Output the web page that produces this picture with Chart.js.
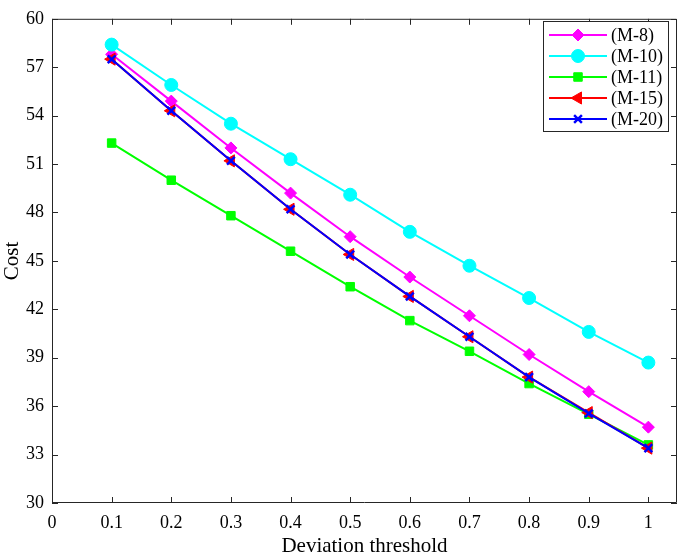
<!DOCTYPE html>
<html>
<head>
<meta charset="utf-8">
<script src="https://cdn.jsdelivr.net/npm/chart.js@4/dist/chart.umd.min.js"></script>
<style>
  html, body { margin: 0; padding: 0; background: #fff; }
  #wrap { width: 685px; height: 556px; }
</style>
</head>
<body>
<div id="wrap"><canvas id="c" width="685" height="556"></canvas></div>
<script>
// data
const thresholds = [0.1, 0.2, 0.3, 0.4, 0.5, 0.6, 0.7, 0.8, 0.9, 1.0];
const m8  = [57.8, 54.9, 52.0, 49.2, 46.5, 44.0, 41.6, 39.2, 36.9, 34.7];
const m10 = [58.4, 55.9, 53.5, 51.3, 49.1, 46.8, 44.7, 42.7, 40.6, 38.7];
const m11 = [52.3, 50.0, 47.8, 45.6, 43.4, 41.3, 39.4, 37.4, 35.5, 33.6];
const m15 = [57.5, 54.3, 51.2, 48.2, 45.4, 42.8, 40.3, 37.8, 35.6, 33.4];
const m20 = [57.5, 54.3, 51.2, 48.2, 45.4, 42.8, 40.3, 37.8, 35.55, 33.4];
const xTicks = [0, 0.1, 0.2, 0.3, 0.4, 0.5, 0.6, 0.7, 0.8, 0.9, 1];
const yTicks = [30, 33, 36, 39, 42, 45, 48, 51, 54, 57, 60];

const AXIS = '#262626';
const FONT = '"Liberation Serif", "Times New Roman", serif';

function pts(ys) { return thresholds.map((x, i) => ({ x: x, y: ys[i] })); }

function series(label, ys, color, style, radius, extra) {
  return Object.assign({
    label: label,
    data: pts(ys),
    borderColor: color,
    backgroundColor: color,
    pointBackgroundColor: color,
    pointBorderColor: color,
    borderWidth: 2,
    pointStyle: style,
    pointRadius: radius,
    pointBorderWidth: 1,
    tension: 0
  }, extra || {});
}

const datasets = [
  series('(M-8)', m8, '#ff00ff', 'rectRot', 6, { order: 4 }),
  series('(M-10)', m10, '#00ffff', 'circle', 6.5, { order: 3 }),
  series('(M-11)', m11, '#00ff00', 'rect', 6, { order: 2 }),
  series('(M-15)', m15, '#ff0000', 'triangle', 7, { order: 1, rotation: -90 }),
  series('(M-20)', m20, '#0000ff', 'crossRot', 5.5, { order: 0, pointBorderWidth: 2.5 })
];

// box on all sides with inward ticks, like the original figure
const boxPlugin = {
  id: 'box',
  afterDatasetsDraw(chart) {
    const { ctx, chartArea: a, scales } = chart;
    ctx.save();
    ctx.strokeStyle = AXIS;
    ctx.lineWidth = 1;
    ctx.beginPath();
    ctx.rect(a.left + 0.5, a.top + 0.5, a.right - a.left - 1, a.bottom - a.top - 1);
    const tl = 6;
    xTicks.forEach(v => {
      const px = Math.round(scales.x.getPixelForValue(v)) + 0.5;
      ctx.moveTo(px, a.bottom); ctx.lineTo(px, a.bottom - tl);
      ctx.moveTo(px, a.top); ctx.lineTo(px, a.top + tl);
    });
    yTicks.forEach(v => {
      const py = Math.round(scales.y.getPixelForValue(v)) + 0.5;
      ctx.moveTo(a.left, py); ctx.lineTo(a.left + tl, py);
      ctx.moveTo(a.right, py); ctx.lineTo(a.right - tl, py);
    });
    ctx.stroke();
    ctx.restore();
  }
};

// legend box in the upper right corner of the plot
const legendPlugin = {
  id: 'boxLegend',
  afterDraw(chart) {
    const { ctx } = chart;
    const x0 = 543, y0 = 21, w = 125, h = 110, rowH = 21;
    ctx.save();
    ctx.fillStyle = '#fff';
    ctx.fillRect(x0, y0, w, h);
    ctx.strokeStyle = AXIS;
    ctx.lineWidth = 1;
    ctx.strokeRect(x0 + 0.5, y0 + 0.5, w, h);
    ctx.font = '18px ' + FONT;
    ctx.textBaseline = 'middle';
    chart.data.datasets.forEach((ds, i) => {
      const y = y0 + 14 + i * rowH;
      ctx.strokeStyle = ds.borderColor;
      ctx.fillStyle = ds.borderColor;
      ctx.lineWidth = 2;
      ctx.beginPath();
      ctx.moveTo(x0 + 6, y); ctx.lineTo(x0 + 64, y);
      ctx.stroke();
      ctx.lineWidth = ds.pointBorderWidth;
      Chart.helpers.drawPoint(ctx, {
        pointStyle: ds.pointStyle,
        radius: ds.pointRadius,
        rotation: ds.rotation || 0,
        borderWidth: ds.pointBorderWidth
      }, x0 + 35, y);
      ctx.fillStyle = '#000';
      ctx.fillText(ds.label, x0 + 68, y + 1);
    });
    ctx.restore();
  }
};

new Chart(document.getElementById('c'), {
  type: 'line',
  data: { datasets: datasets },
  options: {
    responsive: false,
    animation: false,
    layout: { padding: { top: 6, right: 2, left: 0, bottom: 0 } },
    plugins: {
      legend: { display: false },
      tooltip: { enabled: false }
    },
    scales: {
      x: {
        type: 'linear',
        min: 0,
        max: 1.048,
        afterBuildTicks(s) { s.ticks = xTicks.map(v => ({ value: v })); },
        afterFit(s) { s.height = 53; },
        grid: { display: false, drawTicks: false },
        border: { display: false },
        title: {
          display: true,
          text: 'Deviation threshold',
          color: '#000',
          font: { family: FONT, size: 21 },
          padding: { top: 0, bottom: -3 }
        },
        ticks: {
          color: '#000',
          padding: 9,
          maxRotation: 0,
          autoSkip: false,
          font: { family: FONT, size: 18 },
          callback: v => String(Math.round(v * 10) / 10)
        }
      },
      y: {
        min: 30,
        max: 60,
        afterBuildTicks(s) { s.ticks = yTicks.map(v => ({ value: v })); },
        afterFit(s) { s.width = 52; },
        grid: { display: false, drawTicks: false },
        border: { display: false },
        title: {
          display: true,
          text: 'Cost',
          color: '#000',
          font: { family: FONT, size: 21 },
          padding: { top: 0, bottom: 0 }
        },
        ticks: {
          color: '#000',
          padding: 8,
          autoSkip: false,
          font: { family: FONT, size: 18 }
        }
      }
    }
  },
  plugins: [boxPlugin, legendPlugin]
});
</script>
</body>
</html>
